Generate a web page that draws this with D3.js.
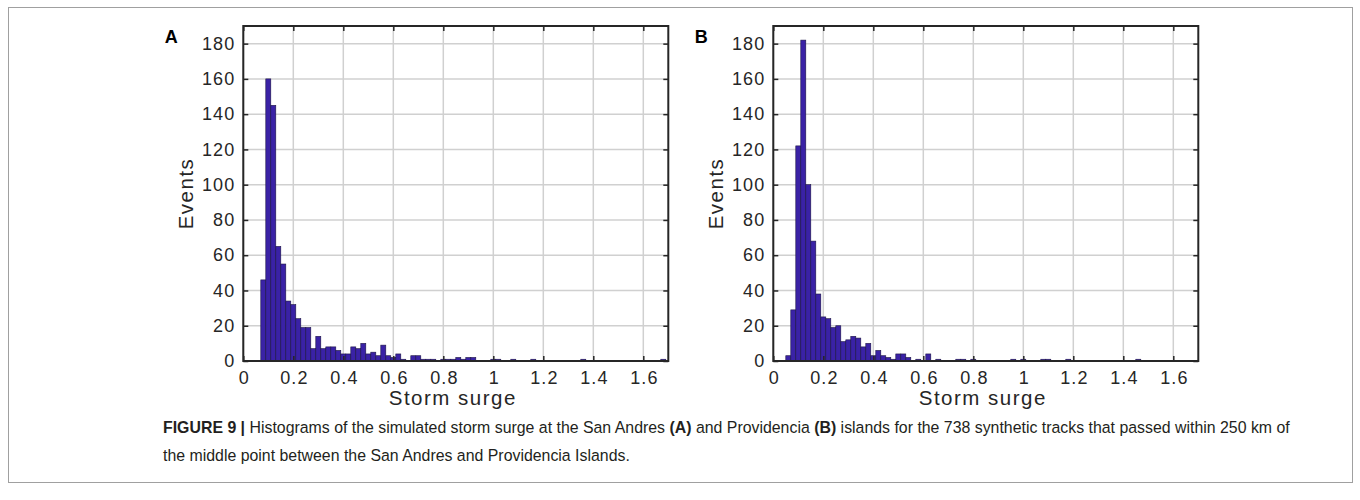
<!DOCTYPE html>
<html><head><meta charset="utf-8">
<script src="https://cdn.jsdelivr.net/npm/d3@7"></script>
<style>
html,body{margin:0;padding:0;background:#fff;}
svg{display:block;}
</style></head>
<body>
<svg id="chart" width="1360" height="500"></svg>
<script>
// ---------- data ----------
const xTicks = [0, 0.2, 0.4, 0.6, 0.8, 1, 1.2, 1.4, 1.6];
const yTicks = [0, 20, 40, 60, 80, 100, 120, 140, 160, 180];
const binWidth = 0.02;
const startA = 0.07;
const countsA = [46,160,145,65,55,34,32,24,19,19,
  7,14,7,8,8,6,4,4,8,7,
  10,4,5,3,9,3,2,4,1,0,
  3,3,1,1,1,0,1,1,1,2,
  1,2,2,0,0,0,1,1,0,0,
  1,0,0,0,1,0,0,0,0,0,
  0,0,0,0,1,0,0,0,0,0,
  0,0,0,0,0,0,0,0,0,0,
  1];
const startB = 0.05;
const countsB = [3,29,122,182,100,68,38,25,24,19,
  20,11,12,14,13,8,10,3,6,3,
  2,1,4,4,2,0,1,0,4,0,
  1,0,0,0,1,1,0,1,0,0,
  0,0,0,0,0,1,0,1,0,0,
  0,1,1,0,0,0,1,0,0,0,
  0,0,0,0,0,0,0,0,0,0,
  1];
const panelLabels = ["A", "B"];
const xLabel = "Storm surge";
const yLabel = "Events";
const captionParts1 = [
  {t: "FIGURE 9 | ", b: true},
  {t: "Histograms of the simulated storm surge at the San Andres ", b: false},
  {t: "(A)", b: true},
  {t: " and Providencia ", b: false},
  {t: "(B)", b: true},
  {t: " islands for the 738 synthetic tracks that passed within 250 km of", b: false}
];
const captionLine2 = "the middle point between the San Andres and Providencia Islands.";

// ---------- drawing ----------
const svg = d3.select("#chart");
svg.append("rect").attr("x", 8.5).attr("y", 7.5).attr("width", 1344).attr("height", 475)
  .attr("fill", "none").attr("stroke", "#a0a0a0").attr("stroke-width", 1);

const fontAxis = "Helvetica, 'Liberation Sans', Arial, sans-serif";
const textCol = "#262626";

function panel(left, counts, start, label) {
  const top = 26, bottom = 361, width = 425;
  const x = d3.scaleLinear().domain([0, 1.7]).range([left, left + width]);
  const y = d3.scaleLinear().domain([0, 190]).range([bottom, top]);
  const g = svg.append("g");

  // grid
  g.append("g").selectAll("line").data(xTicks).join("line")
    .attr("x1", d => x(d)).attr("x2", d => x(d)).attr("y1", top).attr("y2", bottom)
    .attr("stroke", "#d0d0d0").attr("stroke-width", 1.5);
  g.append("g").selectAll("line").data(yTicks).join("line")
    .attr("y1", d => y(d)).attr("y2", d => y(d)).attr("x1", left).attr("x2", left + width)
    .attr("stroke", "#d0d0d0").attr("stroke-width", 1.5);

  // bars
  const bins = counts.map((c, i) => ({x0: start + i * binWidth, x1: start + (i + 1) * binWidth, c}));
  g.append("g").selectAll("rect").data(bins).join("rect")
    .attr("x", d => x(d.x0)).attr("width", d => x(d.x1) - x(d.x0))
    .attr("y", d => y(d.c)).attr("height", d => y(0) - y(d.c))
    .attr("fill", "#3a22a6").attr("stroke", "#1d1545").attr("stroke-width", 0.6);

  // axes (ticks inside)
  const tl = 5;
  const axB = d3.axisBottom(x).tickValues(xTicks).tickSize(-tl).tickPadding(10).tickFormat(d3.format("~g"));
  const axT = d3.axisTop(x).tickValues(xTicks).tickSize(-tl).tickFormat("");
  const axL = d3.axisLeft(y).tickValues(yTicks).tickSize(-tl).tickPadding(8);
  const axR = d3.axisRight(y).tickValues(yTicks).tickSize(-tl).tickFormat("");
  const styleAx = sel => {
    sel.selectAll("path.domain").remove();
    sel.selectAll("line").attr("stroke", "#262626").attr("stroke-width", 1.5);
    sel.selectAll("text").attr("fill", textCol).style("font-family", fontAxis)
      .style("font-size", "18px").style("letter-spacing", "1.1px");
  };
  g.append("g").attr("transform", `translate(0,${bottom})`).call(axB).call(styleAx)
    .selectAll("text").attr("dx", "0.6px");
  g.append("g").attr("transform", `translate(0,${top})`).call(axT).call(styleAx);
  g.append("g").attr("transform", `translate(${left},0)`).call(axL).call(styleAx);
  g.append("g").attr("transform", `translate(${left + width},0)`).call(axR).call(styleAx);

  g.append("rect").attr("x", left).attr("y", top).attr("width", width).attr("height", bottom - top)
    .attr("fill", "none").attr("stroke", "#262626").attr("stroke-width", 2);

  g.append("text").attr("x", left + width / 2 - 3).attr("y", 405).attr("text-anchor", "middle")
    .attr("fill", textCol).style("font-family", fontAxis).style("font-size", "20.5px")
    .style("letter-spacing", "1.5px").text(xLabel);
  g.append("text").attr("transform", `translate(${left - 50},${(top + bottom) / 2}) rotate(-90)`)
    .attr("text-anchor", "middle").attr("fill", textCol)
    .style("font-family", fontAxis).style("font-size", "20.5px")
    .style("letter-spacing", "1.5px").text(yLabel);
  g.append("text").attr("x", left - 72).attr("y", 43).attr("text-anchor", "middle")
    .attr("fill", "#000").style("font-family", fontAxis).style("font-weight", "bold")
    .style("font-size", "18px").text(label);
}

panel(243.3, countsA, startA, panelLabels[0]);
panel(773.3, countsB, startB, panelLabels[1]);

// caption (condensed via horizontal scaling)
const capFont = "'Liberation Sans Narrow', 'Arial Narrow', 'Liberation Sans', sans-serif";
const cg1 = svg.append("g");
const t1 = cg1.append("text").attr("x", 0).attr("y", 0).attr("fill", "#231f20")
  .style("font-family", capFont).style("font-size", "16.5px");
captionParts1.forEach(p => {
  t1.append("tspan").style("font-weight", p.b ? "bold" : "normal").text(p.t);
});
const w1 = t1.node().getComputedTextLength();
const sx = 1127 / w1;
cg1.attr("transform", `translate(163,433) scale(${sx},1)`);
const cg2 = svg.append("g").attr("transform", `translate(163,461) scale(${sx},1)`);
cg2.append("text").attr("x", 0).attr("y", 0).attr("fill", "#231f20")
  .style("font-family", capFont).style("font-size", "16.5px").text(captionLine2);
</script>
</body></html>
